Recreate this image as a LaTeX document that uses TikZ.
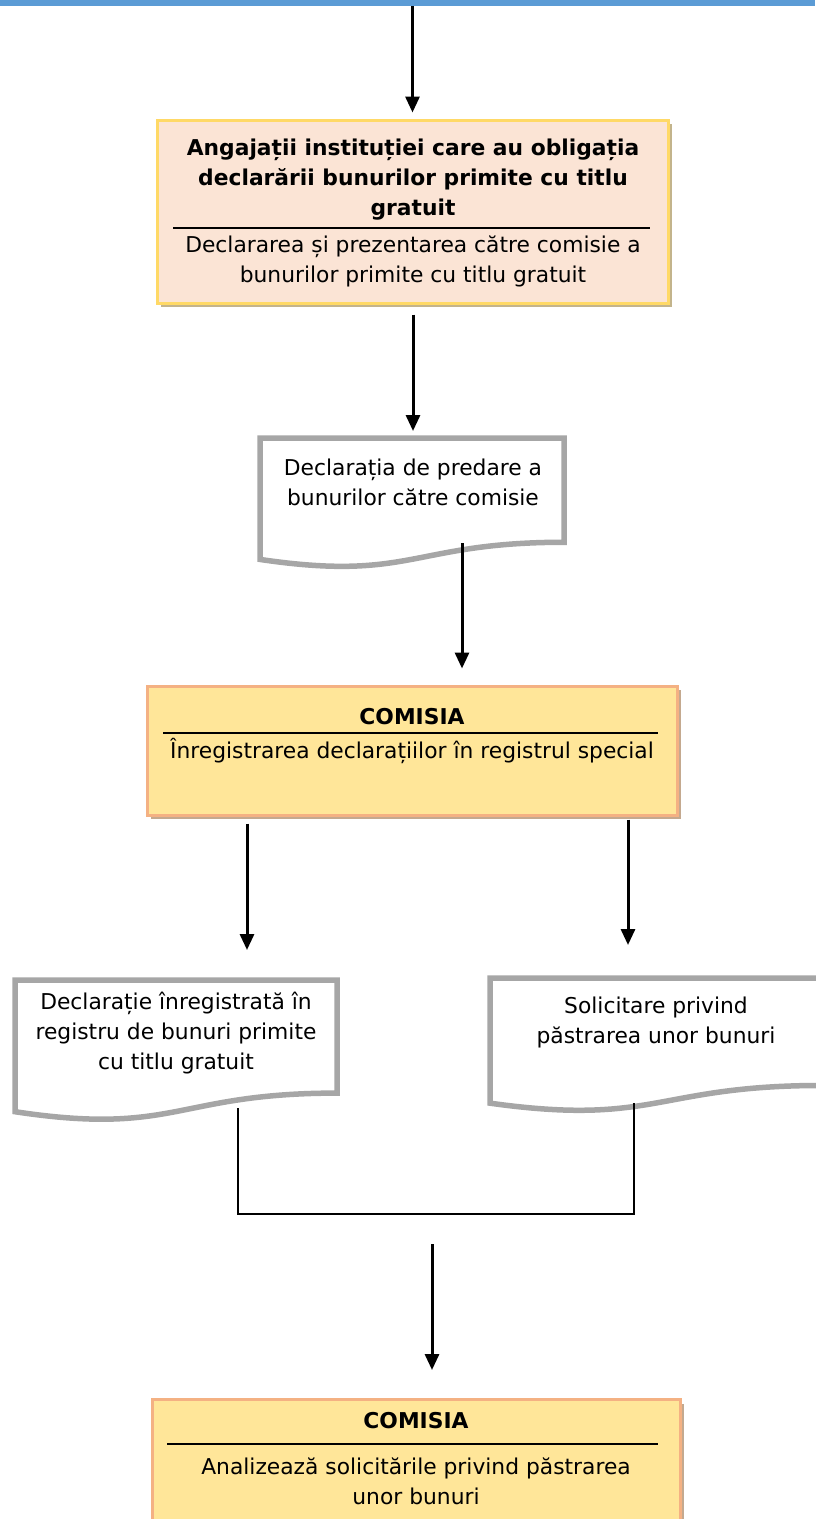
\documentclass[tikz,border=0pt]{standalone}
\usepackage{fontspec}
\setmainfont{DejaVu Sans}
\usetikzlibrary{arrows.meta,shadows,positioning}
\definecolor{barblue}{HTML}{5B9BD5}
\definecolor{peach}{HTML}{FBE4D5}
\definecolor{gold}{HTML}{FFD966}
\definecolor{lightgold}{HTML}{FFE699}
\definecolor{salmon}{HTML}{F4B183}
\definecolor{docgray}{HTML}{A6A6A6}
\definecolor{shadowtan}{HTML}{C3B48C}
\definecolor{shadowbrown}{HTML}{C4A98F}
\tikzset{
  txt/.style={align=center, inner sep=0pt, font=\fontsize{21.8}{30}\selectfont},
  txtbold/.style={txt, font=\fontsize{21.8}{30}\selectfont\bfseries},
  flow/.style={line width=3pt, -{Triangle[length=16pt,width=14pt]}},
  link/.style={line width=1.5pt},
  rule/.style={line width=1.5pt},
  docline/.style={line width=5.5pt, draw=docgray, fill=white, line join=miter},
  peachbox/.style={rectangle, inner sep=0pt, line width=3pt, draw=gold, fill=peach,
    drop shadow={shadow xshift=4pt, shadow yshift=-4pt, fill=shadowtan, opacity=1}},
  goldbox/.style={rectangle, inner sep=0pt, line width=3pt, draw=salmon, fill=lightgold,
    drop shadow={shadow xshift=4pt, shadow yshift=-4pt, fill=shadowbrown, opacity=1}}
}
% document shape: left x, top y, width, height
\newcommand{\flowdoc}[4]{%
  \draw[docline] (#1,#2) -- ++(#3,0) -- ++(0,{0.802*#4})
    .. controls ({#1+0.5*#3},{#2+0.802*#4}) and ({#1+0.5*#3},{#2+1.107*#4})
    .. (#1,{#2+0.934*#4}) -- cycle;}
\begin{document}
\begin{tikzpicture}[x=1pt, y=-1pt]
  \useasboundingbox (0,0) rectangle (815,1519);
  \node[rectangle, fill=barblue, inner sep=0pt, minimum width=815pt, minimum height=6pt] (bar) at (407.5,3) {};

  % angajatii
  \node[peachbox, minimum width=511pt, minimum height=183pt] (angajati) at (412.5,211.5) {};
  \node[txtbold] (angajatiT) at (413,180)
    {Angajații instituției care au obligația\\declarării bunurilor primite cu titlu\\gratuit};
  \draw[rule] (173,228) -- (650,228);
  \node[txt] (angajatiB) at (413,261)
    {Declararea și prezentarea către comisie a\\bunurilor primite cu titlu gratuit};

  % declaratia de predare
  \flowdoc{260}{438}{304}{130}
  \coordinate (d2top) at (413,438);
  \coordinate (d2out) at (462,543);
  \node[txt] (predare) at (413,482) {Declarația de predare a\\bunurilor către comisie};

  % comisia - inregistrare
  \node[goldbox, minimum width=530pt, minimum height=129pt] (comisiaA) at (412,750.5) {};
  \node[txtbold] (comisiaAT) at (412,717) {COMISIA};
  \draw[rule] (163,733) -- (658,733);
  \node[txt] (comisiaAB) at (412,751) {Înregistrarea declarațiilor în registrul special};

  % declaratie inregistrata / solicitare
  \flowdoc{15}{980}{322}{141}
  \flowdoc{490}{978}{332}{134}
  \coordinate (dLtop) at (247,980);
  \coordinate (dRtop) at (628,978);
  \coordinate (dLout) at (238,1108);
  \coordinate (dRout) at (634,1103);
  \node[txt] (inregistrata) at (176,1033)
    {Declarație înregistrată în\\registru de bunuri primite\\cu titlu gratuit};
  \node[txt] (solicitare) at (656,1022) {Solicitare privind\\păstrarea unor bunuri};

  % comisia - analiza
  \node[goldbox, anchor=north, minimum width=528pt, minimum height=150pt] (comisiaB) at (416,1398) {};
  \node[txtbold] (comisiaBT) at (416,1421) {COMISIA};
  \draw[rule] (167,1444) -- (658,1444);
  \node[txt] (comisiaBB) at (416,1481)
    {Analizează solicitările privind păstrarea\\unor bunuri};

  \coordinate (join) at (432,1214);

  % connectors
  \draw[flow, shorten >=6pt] (bar.south -| angajati.north) -- (angajati.north);
  \draw[flow, shorten <=10pt, shorten >=7pt] (angajati.south -| d2top) -- (d2top);
  \draw[flow, shorten >=16pt] (d2out) -- (d2out |- comisiaA.north);
  \draw[flow, shorten <=7pt, shorten >=30pt] (comisiaA.south -| dLtop) -- (dLtop);
  \draw[flow, shorten <=3pt, shorten >=33pt] (comisiaA.south -| dRtop) -- (dRtop);
  \draw[link] (dLout) |- (join) -| (dRout);
  \draw[flow, shorten <=30pt, shorten >=28pt] (join) -- (join |- comisiaB.north);
\end{tikzpicture}
\end{document}
